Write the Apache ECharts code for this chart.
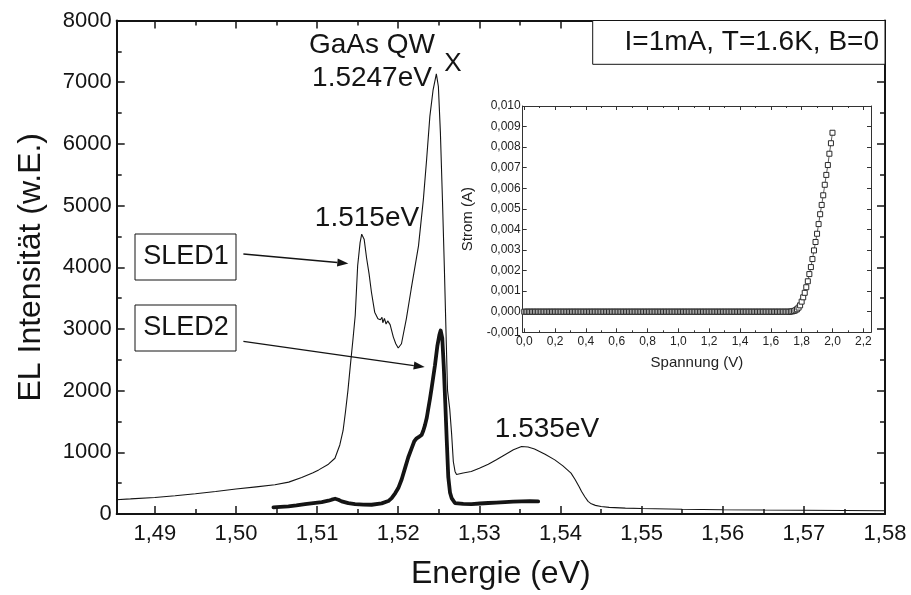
<!DOCTYPE html>
<html>
<head>
<meta charset="utf-8">
<script src="https://cdn.jsdelivr.net/npm/echarts@6/dist/echarts.min.js"></script>
<style>
  html, body { margin: 0; padding: 0; background: #fff; }
  #chart { width: 911px; height: 595px; }
</style>
</head>
<body>
<div id="chart"></div>
<script>
// Electroluminescence spectra of two SLED samples, [energy eV, intensity a.u.]
const sled1 = [
  [1.4852,232],[1.4870,245],[1.4900,268],[1.4925,297],[1.4950,328],[1.4975,364],
  [1.5000,404],[1.5025,440],[1.5048,473],[1.5065,517],[1.5081,592],[1.5095,670],
  [1.5102,715],[1.5114,807],[1.5122,904],[1.5128,1119],[1.5132,1350],[1.5135,1658],
  [1.5138,2000],[1.5141,2410],[1.5144,2800],[1.5147,3217],[1.5150,4024],[1.5153,4400],
  [1.5155,4536],[1.5158,4455],[1.5161,4150],[1.5164,3900],[1.5167,3595],[1.5171,3272],
  [1.5175,3164],[1.5178,3150],[1.5180,3190],[1.5181,3100],[1.5183,3170],[1.5185,3080],
  [1.5187,3130],[1.5190,3070],[1.5194,2868],[1.5197,2760],[1.5200,2691],[1.5204,2760],
  [1.5210,3164],[1.5216,3648],[1.5225,4347],[1.5231,5101],[1.5235,5747],[1.5239,6446],
  [1.5243,6877],[1.5247,7135],[1.52495,6930],[1.5252,6178],[1.52545,5101],[1.52568,4024],
  [1.52589,2949],[1.52608,2000],[1.52635,1700],[1.52658,1300],[1.52679,851],[1.5270,690],
  [1.52719,640],[1.5280,665],[1.5290,689],[1.5300,740],[1.5311,807],[1.5321,880],
  [1.5331,957],[1.5342,1040],[1.5352,1093],[1.5360,1085],[1.5368,1054],[1.5381,970],
  [1.5393,877],[1.5403,780],[1.5413,662],[1.5418,560],[1.5423,440],[1.5426,366],
  [1.5430,280],[1.5434,205],[1.5438,165],[1.5443,140],[1.5450,122],[1.5460,108],
  [1.5480,95],[1.5500,88],[1.5550,78],[1.5600,70],[1.5650,64],[1.5700,60],
  [1.5750,56],[1.5800,53]
];

const sled2 = [
  [1.50462,108],[1.50548,115],[1.50647,124],[1.50745,140],[1.50852,161],[1.50954,178],
  [1.51057,194],[1.51139,215],[1.51180,232],[1.51222,247],[1.51262,230],[1.51303,205],
  [1.51385,175],[1.51468,161],[1.51570,152],[1.51672,150],[1.51796,173],[1.51878,210],
  [1.51919,258],[1.51964,340],[1.52001,420],[1.52042,560],[1.52084,743],[1.52124,920],
  [1.52165,1065],[1.52198,1180],[1.52227,1227],[1.52260,1255],[1.52288,1280],[1.52309,1350],
  [1.52330,1441],[1.52352,1560],[1.52371,1711],[1.52392,1872],[1.52411,2034],[1.52453,2410],
  [1.52482,2720],[1.52507,2900],[1.52523,2975],[1.52543,2850],[1.52561,2400],[1.52580,1800],
  [1.52598,1200],[1.52617,600],[1.52638,350],[1.52658,258],[1.52699,178],[1.52802,165],
  [1.52904,161],[1.53007,170],[1.53109,178],[1.53208,185],[1.53315,194],[1.53417,200],
  [1.53520,205],[1.53623,208],[1.53725,205]
];

// Current-voltage characteristic (inset)
const voltage = [
  0.00,0.01,0.02,0.03,0.04,0.05,0.06,0.07,0.08,0.09,0.10,0.11,0.12,0.13,0.14,0.15,0.16,0.17,0.18,0.19,
  0.20,0.21,0.22,0.23,0.24,0.25,0.26,0.27,0.28,0.29,0.30,0.31,0.32,0.33,0.34,0.35,0.36,0.37,0.38,0.39,
  0.40,0.41,0.42,0.43,0.44,0.45,0.46,0.47,0.48,0.49,0.50,0.51,0.52,0.53,0.54,0.55,0.56,0.57,0.58,0.59,
  0.60,0.61,0.62,0.63,0.64,0.65,0.66,0.67,0.68,0.69,0.70,0.71,0.72,0.73,0.74,0.75,0.76,0.77,0.78,0.79,
  0.80,0.81,0.82,0.83,0.84,0.85,0.86,0.87,0.88,0.89,0.90,0.91,0.92,0.93,0.94,0.95,0.96,0.97,0.98,0.99,
  1.00,1.01,1.02,1.03,1.04,1.05,1.06,1.07,1.08,1.09,1.10,1.11,1.12,1.13,1.14,1.15,1.16,1.17,1.18,1.19,
  1.20,1.21,1.22,1.23,1.24,1.25,1.26,1.27,1.28,1.29,1.30,1.31,1.32,1.33,1.34,1.35,1.36,1.37,1.38,1.39,
  1.40,1.41,1.42,1.43,1.44,1.45,1.46,1.47,1.48,1.49,1.50,1.51,1.52,1.53,1.54,1.55,1.56,1.57,1.58,1.59,
  1.60,1.61,1.62,1.63,1.64,1.65,1.66,1.67,1.68,1.69,1.70,1.71,1.72,1.73,1.74,1.75,1.76,1.77,1.78,1.79,
  1.80,1.81,1.82,1.83,1.84,1.85,1.86,1.87,1.88,1.89,1.90,1.91,1.92,1.93,1.94,1.95,1.96,1.97,1.98,1.99,
  2.00
];
const current = [
  0,0,0,0,0,0,0,0,0,0,0,0,0,0,0,0,0,0,0,0,
  0,0,0,0,0,0,0,0,0,0,0,0,0,0,0,0,0,0,0,0,
  0,0,0,0,0,0,0,0,0,0,0,0,0,0,0,0,0,0,0,0,
  0,0,0,0,0,0,0,0,0,0,0,0,0,0,0,0,0,0,0,0,
  0,0,0,0,0,0,0,0,0,0,0,0,0,0,0,0,0,0,0,0,
  0,0,0,0,0,0,0,0,0,0,0,0,0,0,0,0,0,0,0,0,
  0,0,0,0,0,0,0,0,0,0,0,0,0,0,0,0,0,0,0,0,
  0,0,0,0,0,0,0,0,0,0,0,0,0,0,0,0,0,0,0,0,
  0,0,0,0,0,0,0,0,0,0,0,0,0,0.00001,0.00002,0.00004,0.00007,0.00012,0.00020,0.00031,
  0.00049,0.00070,0.00092,0.00119,0.00148,0.00183,0.00217,0.00256,0.00298,0.00339,
  0.00379,0.00426,0.00474,0.00519,0.00566,0.00617,0.00665,0.00713,0.00768,0.00819,
  0.00870
];

// Tick positions
const energyMajor = [1.49,1.50,1.51,1.52,1.53,1.54,1.55,1.56,1.57,1.58];
const energyMinor = [1.495,1.505,1.515,1.525,1.535,1.545,1.555,1.565,1.575];
const voltMajor = [0,0.2,0.4,0.6,0.8,1.0,1.2,1.4,1.6,1.8,2.0,2.2];
const voltMinor = [0.1,0.3,0.5,0.7,0.9,1.1,1.3,1.5,1.7,1.9,2.1];

const FONT = '"Liberation Sans", Arial, Helvetica, sans-serif';
const INK = '#141414';

const ivData = voltage.map((v, i) => [v, current[i]]);

const comma = (v, d) => v.toFixed(d).replace('.', ',');

function tickAxis(grid, pos, min, max, values, len, width, color) {
  return {
    type: 'value', gridIndex: grid, position: pos, min: min, max: max,
    axisLine: { show: false, onZero: false },
    axisTick: { inside: true, length: len, customValues: values, lineStyle: { color: color, width: width } },
    axisLabel: { show: false },
    splitLine: { show: false }
  };
}

function arrow(x1, y1, x2, y2) {
  const a = Math.atan2(y2 - y1, x2 - x1), L = 11, W = 4;
  const bx = x2 - L * Math.cos(a), by = y2 - L * Math.sin(a);
  const nx = -Math.sin(a) * W, ny = Math.cos(a) * W;
  return [
    { type: 'line', z: 100, shape: { x1: x1, y1: y1, x2: bx, y2: by }, style: { stroke: INK, lineWidth: 1.3 } },
    { type: 'polygon', z: 100, shape: { points: [[x2, y2], [bx + nx, by + ny], [bx - nx, by - ny]] }, style: { fill: INK } }
  ];
}

function label(text, x, y, size, align) {
  return {
    type: 'text', z: 100, x: x, y: y,
    style: { text: text, font: size + 'px ' + FONT, fill: INK, textAlign: align || 'center', textVerticalAlign: 'middle' }
  };
}

function box(x1, y1, x2, y2) {
  return {
    type: 'rect', z: 99, shape: { x: x1, y: y1, width: x2 - x1, height: y2 - y1 },
    style: { fill: '#fff', stroke: INK, lineWidth: 1 }
  };
}

const chart = echarts.init(document.getElementById('chart'), null, { renderer: 'canvas' });

chart.setOption({
  animation: false,
  backgroundColor: '#fff',
  textStyle: { fontFamily: FONT },
  grid: [
    { left: 116.7, top: 20.5, width: 768.3, height: 495.5 },
    { left: 522.7, top: 106, width: 348.3, height: 226.3 }
  ],
  xAxis: [
    {
      type: 'value', gridIndex: 0, position: 'bottom', min: 1.4853, max: 1.58,
      axisLine: { onZero: false, lineStyle: { color: INK, width: 2 } },
      axisTick: { inside: true, length: 8, customValues: energyMajor, lineStyle: { color: INK, width: 1.5 } },
      axisLabel: { customValues: energyMajor, formatter: v => comma(v, 2), fontSize: 22, margin: 9, color: INK, fontFamily: FONT },
      splitLine: { show: false },
      name: 'Energie (eV)', nameLocation: 'middle', nameGap: 44,
      nameTextStyle: { fontSize: 32, color: INK, fontFamily: FONT }
    },
    tickAxis(0, 'bottom', 1.4853, 1.58, energyMinor, 5, 1.5, INK),
    {
      type: 'value', gridIndex: 0, position: 'top', min: 1.4853, max: 1.58,
      axisLine: { onZero: false, lineStyle: { color: INK, width: 2 } },
      axisTick: { inside: true, length: 8, customValues: energyMajor, lineStyle: { color: INK, width: 1.5 } },
      axisLabel: { show: false },
      splitLine: { show: false }
    },
    tickAxis(0, 'top', 1.4853, 1.58, energyMinor, 5, 1.5, INK),
    {
      type: 'value', gridIndex: 1, position: 'bottom', min: -0.01, max: 2.25,
      axisLine: { onZero: false, lineStyle: { color: '#333', width: 1 } },
      axisTick: { inside: true, length: 4, customValues: voltMajor, lineStyle: { color: '#333', width: 1 } },
      axisLabel: { customValues: voltMajor, formatter: v => comma(v, 1), fontSize: 12, margin: 3, color: '#222', fontFamily: FONT },
      splitLine: { show: false },
      name: 'Spannung (V)', nameLocation: 'middle', nameGap: 23,
      nameTextStyle: { fontSize: 15, color: '#222', fontFamily: FONT }
    },
    tickAxis(1, 'bottom', -0.01, 2.25, voltMinor, 2, 1, '#333'),
    {
      type: 'value', gridIndex: 1, position: 'top', min: -0.01, max: 2.25,
      axisLine: { onZero: false, lineStyle: { color: '#333', width: 1 } },
      axisTick: { inside: true, length: 4, customValues: voltMajor, lineStyle: { color: '#333', width: 1 } },
      axisLabel: { show: false },
      splitLine: { show: false }
    },
    tickAxis(1, 'top', -0.01, 2.25, voltMinor, 2, 1, '#333')
  ],
  yAxis: [
    {
      type: 'value', gridIndex: 0, position: 'left', min: 0, max: 8000, interval: 1000,
      axisLine: { show: true, onZero: false, lineStyle: { color: INK, width: 2 } },
      axisTick: { show: true, inside: true, length: 8, lineStyle: { color: INK, width: 1.5 } },
      minorTick: { show: true, splitNumber: 2, length: 5, lineStyle: { color: INK, width: 1.5 } },
      axisLabel: { formatter: v => String(v), fontSize: 22, margin: 5, color: INK, fontFamily: FONT },
      splitLine: { show: false },
      name: 'EL Intensität (w.E.)', nameLocation: 'middle', nameGap: 70,
      nameTextStyle: { fontSize: 32, color: INK, fontFamily: FONT }
    },
    {
      type: 'value', gridIndex: 0, position: 'right', min: 0, max: 8000, interval: 1000,
      axisLine: { show: true, onZero: false, lineStyle: { color: INK, width: 2 } },
      axisTick: { show: true, inside: true, length: 8, lineStyle: { color: INK, width: 1.5 } },
      minorTick: { show: true, splitNumber: 2, length: 5, lineStyle: { color: INK, width: 1.5 } },
      axisLabel: { show: false },
      splitLine: { show: false }
    },
    {
      type: 'value', gridIndex: 1, position: 'left', min: -0.001, max: 0.010, interval: 0.001,
      axisLine: { show: true, onZero: false, lineStyle: { color: '#333', width: 1 } },
      axisTick: { show: true, inside: true, length: 4, lineStyle: { color: '#333', width: 1 } },
      axisLabel: { formatter: v => comma(v, 3), fontSize: 12, margin: 2, color: '#222', fontFamily: FONT },
      splitLine: { show: false },
      name: 'Strom (A)', nameLocation: 'middle', nameGap: 47,
      nameTextStyle: { fontSize: 15, color: '#222', fontFamily: FONT }
    },
    {
      type: 'value', gridIndex: 1, position: 'right', min: -0.001, max: 0.010, interval: 0.001,
      axisLine: { show: true, onZero: false, lineStyle: { color: '#333', width: 1 } },
      axisTick: { show: true, inside: true, length: 4, lineStyle: { color: '#333', width: 1 } },
      axisLabel: { show: false },
      splitLine: { show: false }
    }
  ],
  series: [
    {
      name: 'SLED1', type: 'line', xAxisIndex: 0, yAxisIndex: 0, data: sled1,
      showSymbol: false, lineStyle: { color: INK, width: 1.1 }, z: 3
    },
    {
      name: 'SLED2', type: 'line', xAxisIndex: 0, yAxisIndex: 0, data: sled2,
      showSymbol: false, lineStyle: { color: INK, width: 3.8, join: 'round', cap: 'round' }, z: 4
    },
    {
      name: 'I-V', type: 'line', xAxisIndex: 4, yAxisIndex: 2, data: ivData,
      symbol: 'rect', symbolSize: 5, showSymbol: true, showAllSymbol: true,
      itemStyle: { color: '#fff', borderColor: '#2a2a2a', borderWidth: 1 },
      lineStyle: { color: '#333', width: 0.8 }, z: 5
    }
  ],
  graphic: [
    label('GaAs QW', 372, 45, 28),
    label('1.5247eV', 372, 78, 28),
    label('X', 453, 64, 26),
    label('1.515eV', 367, 218, 28),
    label('1.535eV', 547, 429, 28),
    box(592.7, 20.5, 885, 64.3),
    label('I=1mA, T=1.6K, B=0', 879, 42, 28, 'right'),
    box(135, 234, 236, 280),
    label('SLED1', 186, 257, 27),
    box(135, 305, 236, 351),
    label('SLED2', 186, 328, 27),
    ...arrow(243.4, 254, 348.3, 263.5),
    ...arrow(243.4, 341.3, 424.7, 367.1)
  ]
});
</script>
</body>
</html>
